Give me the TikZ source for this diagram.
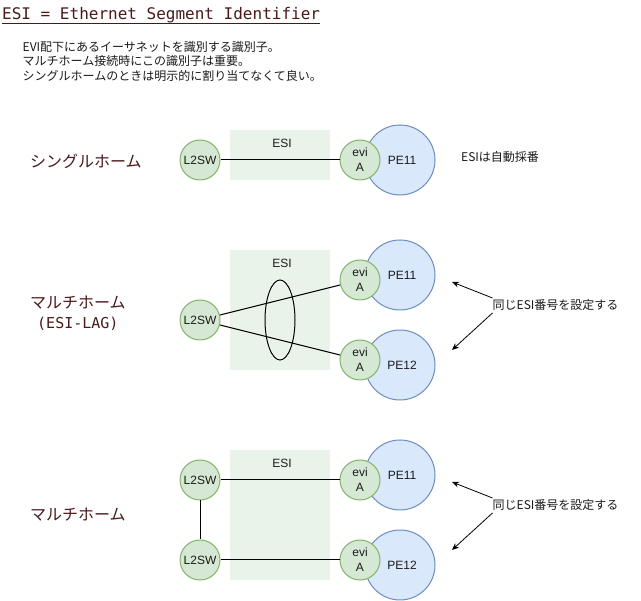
\documentclass[tikz,border=0pt]{standalone}
\usepackage{fontspec}
\setmainfont{Liberation Sans}
\newfontfamily\jp{Noto Sans CJK JP}
\newfontfamily\monof{DejaVu Sans Mono}
\usetikzlibrary{shapes.geometric,arrows.meta}
\definecolor{gfill}{HTML}{D5E8D4}
\definecolor{gline}{HTML}{82B366}
\definecolor{bfill}{HTML}{DAE8FC}
\definecolor{bline}{HTML}{6C8EBF}
\definecolor{esibg}{HTML}{EAF3E9}
\definecolor{darkred}{HTML}{4A1A1A}
\definecolor{txt}{HTML}{1A1A1A}
\tikzset{
  sw/.style={circle,draw=gline,fill=gfill,line width=1pt,minimum size=40pt,inner sep=0pt,font=\fontsize{12}{14}\selectfont,text=txt},
  evi/.style={circle,draw=gline,fill=gfill,line width=1pt,minimum size=40pt,inner sep=0pt,align=center,font=\fontsize{12}{15}\selectfont,text=txt},
  pe/.style={circle,draw=bline,fill=bfill,line width=1pt,minimum size=70pt,inner sep=0pt,font=\fontsize{12}{14}\selectfont,text=txt},
  esibox/.style={fill=esibg,draw=none},
  esilbl/.style={font=\fontsize{12}{14}\selectfont,text=txt,inner sep=0pt},
  link/.style={line width=1pt,black},
  arr/.style={line width=0.8pt,black,-{Stealth[length=7pt,width=6pt]}},
  side/.style={font=\jp\fontsize{16}{18}\selectfont,text=darkred,inner sep=0pt,anchor=west},
  note/.style={font=\jp\fontsize{12}{14}\selectfont,text=txt,inner sep=0pt,anchor=west},
}
\begin{document}
\begin{tikzpicture}[x=1pt,y=-1pt]
\useasboundingbox (0,0) rectangle (641,601);
\fill[white] (0,0) rectangle (641,601);

% title
\node[font=\monof\fontsize{16}{18}\selectfont,text=darkred,inner sep=0pt,anchor=west] (title) at (2,15) {ESI = Ethernet Segment Identifier};
\draw[darkred,line width=0.9pt] (2,23) -- (320,23);
\node[note,align=left,font=\jp\fontsize{12}{14.5}\selectfont,anchor=north west] (desc) at (22.5,41) {EVI配下にあるイーサネットを識別する識別子。\\マルチホーム接続時にこの識別子は重要。\\シングルホームのときは明示的に割り当てなくて良い。};

% side labels
\node[side] (lab1) at (30,161) {シングルホーム};
\node[side] (lab2) at (30,303) {マルチホーム};
\node[font=\monof\fontsize{15}{17}\selectfont,text=darkred,inner sep=0pt,anchor=west] (lab2b) at (37,324) {(ESI-LAG)};
\node[side] (lab3) at (30,515) {マルチホーム};

% ===== row 1 =====
\fill[esibox] (230,130) rectangle (330,180);
\node[esilbl] (esi1) at (282,143) {ESI};
\node[sw] (sw1) at (200,160) {L2SW};
\node[pe] (pe1) at (400,160) {\hspace{4pt}PE11};
\node[evi] (ev1) at (360,160) {evi\\A};
\draw[link] (sw1) -- (ev1);
\node[note] (auto) at (461,157) {ESIは自動採番};

% ===== row 2 =====
\fill[esibox] (230,250) rectangle (330,370);
\node[esilbl] (esi2) at (282,263) {ESI};
\node[sw] (sw2) at (200,320) {L2SW};
\node[pe] (pe21) at (400,275) {\hspace{4pt}PE11};
\node[pe] (pe22) at (400,365) {\hspace{4pt}PE12};
\node[evi] (ev21) at (360,280) {evi\\A};
\node[evi] (ev22) at (360,360) {evi\\A};
\draw[link] (sw2) -- (ev21);
\draw[link] (sw2) -- (ev22);
\node[ellipse,draw=black,line width=1pt,minimum width=30pt,minimum height=80pt,inner sep=0pt] (lag) at (280,320) {};
\node[note] (same2) at (492.5,305) {同じESI番号を設定する};
\coordinate (t21) at (452,282);
\coordinate (t22) at (452,350);
\draw[arr] ([yshift=7pt]same2.west) -- (t21);
\draw[arr] ([yshift=-8pt]same2.west) -- (t22);

% ===== row 3 =====
\fill[esibox] (230,450) rectangle (330,580);
\node[esilbl] (esi3) at (282,463) {ESI};
\node[sw] (sw31) at (200,480) {L2SW};
\node[sw] (sw32) at (200,560) {L2SW};
\node[pe] (pe31) at (400,475) {\hspace{4pt}PE11};
\node[pe] (pe32) at (400,565) {\hspace{4pt}PE12};
\node[evi] (ev31) at (360,480) {evi\\A};
\node[evi] (ev32) at (360,560) {evi\\A};
\draw[link] (sw31) -- (ev31);
\draw[link] (sw32) -- (ev32);
\draw[link] (sw31) -- (sw32);
\node[note] (same3) at (492.5,505) {同じESI番号を設定する};
\coordinate (t31) at (452,482);
\coordinate (t32) at (452,550);
\draw[arr] ([yshift=7pt]same3.west) -- (t31);
\draw[arr] ([yshift=-8pt]same3.west) -- (t32);
\end{tikzpicture}
\end{document}
